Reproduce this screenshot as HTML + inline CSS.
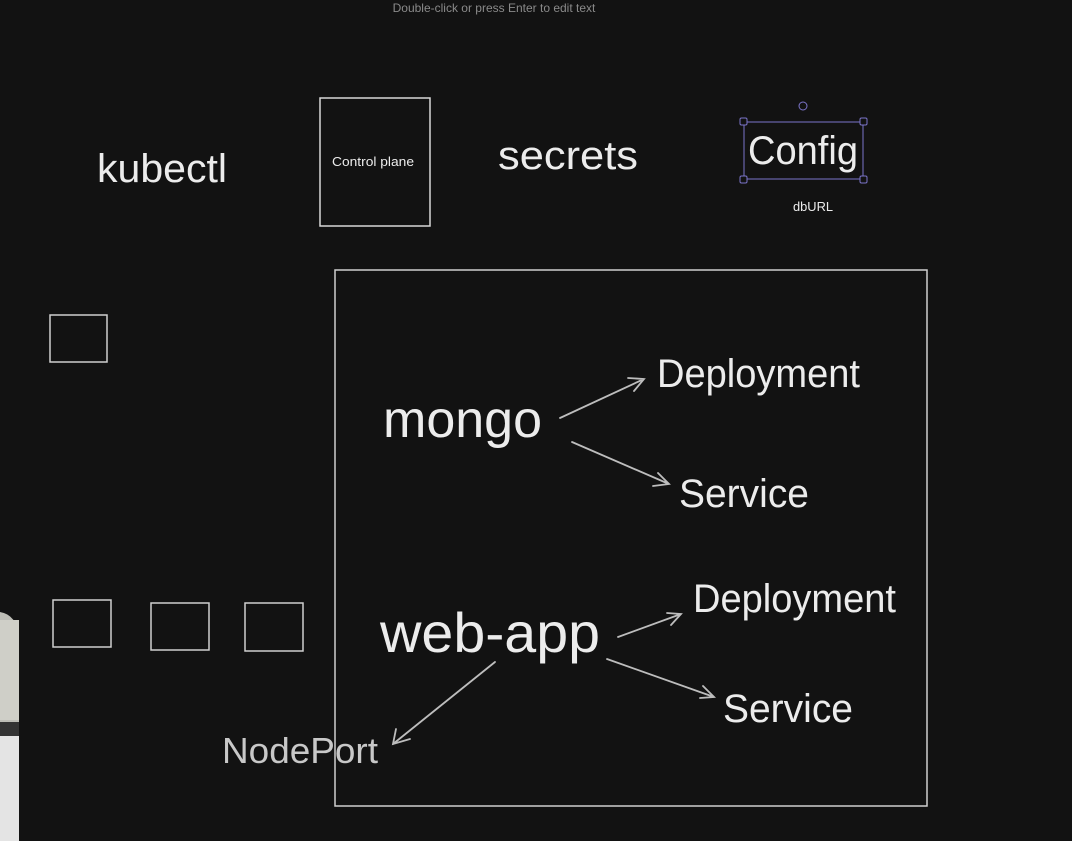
<!DOCTYPE html>
<html><head><meta charset="utf-8"><style>
html,body{margin:0;padding:0;background:#121212;}
svg{display:block}
text{font-family:"Liberation Sans",sans-serif;fill:#ececec}
</style></head><body>
<svg width="1072" height="841" viewBox="0 0 1072 841">
<rect width="1072" height="841" fill="#121212"/>
<text x="494" y="12" font-size="12" fill="#8a8a8a" style="fill:#8a8a8a" text-anchor="middle">Double-click or press Enter to edit text</text>
<text x="97" y="182" font-size="40" textLength="130" lengthAdjust="spacingAndGlyphs">kubectl</text>
<rect x="320" y="98" width="110" height="128" fill="none" stroke="#d8d8d8" stroke-width="1.5"/>
<text x="373" y="166" font-size="13" text-anchor="middle" textLength="82" lengthAdjust="spacingAndGlyphs">Control plane</text>
<text x="498" y="169" font-size="40" textLength="140" lengthAdjust="spacingAndGlyphs">secrets</text>
<rect x="744" y="122" width="119" height="57" fill="none" stroke="#7b74c9" stroke-width="1"/>
<g fill="#121212" stroke="#7b74c9" stroke-width="1">
<rect x="740" y="118" width="7" height="7" rx="1.5"/><rect x="860" y="118" width="7" height="7" rx="1.5"/>
<rect x="740" y="176" width="7" height="7" rx="1.5"/><rect x="860" y="176" width="7" height="7" rx="1.5"/>
<circle cx="803" cy="106" r="4"/></g>
<text x="748" y="164" font-size="40" textLength="110" lengthAdjust="spacingAndGlyphs">Config</text>
<text x="793" y="211" font-size="13" textLength="40" lengthAdjust="spacingAndGlyphs">dbURL</text>
<g fill="none" stroke="#cfcfcf" stroke-width="1.5">
<rect x="50" y="315" width="57" height="47"/>
<rect x="53" y="600" width="58" height="47"/>
<rect x="151" y="603" width="58" height="47"/>
<rect x="245" y="603" width="58" height="48"/>
<rect x="335" y="270" width="592" height="536"/>
</g>
<text x="383" y="437" font-size="52" textLength="159" lengthAdjust="spacingAndGlyphs">mongo</text>
<text x="657" y="387" font-size="40" textLength="203" lengthAdjust="spacingAndGlyphs">Deployment</text>
<text x="679" y="507" font-size="40" textLength="130" lengthAdjust="spacingAndGlyphs">Service</text>
<text x="380" y="652" font-size="56" textLength="220" lengthAdjust="spacingAndGlyphs">web-app</text>
<text x="693" y="612" font-size="40" textLength="203" lengthAdjust="spacingAndGlyphs">Deployment</text>
<text x="723" y="722" font-size="40" textLength="130" lengthAdjust="spacingAndGlyphs">Service</text>
<text x="222" y="763" font-size="36" style="fill:#c8c8c8" textLength="156" lengthAdjust="spacingAndGlyphs">NodePort</text>
<g fill="none" stroke="#bdbdbd" stroke-width="1.8" stroke-linecap="round">
<path d="M560 418 L644 379 M628 378 L644 379 L634 391"/>
<path d="M572 442 L669 484 M653 486 L669 484 L658 473"/>
<path d="M618 637 L681 614 M667 613 L681 614 L671 625"/>
<path d="M607 659 L714 697 M700 698 L714 697 L703 686"/>
<path d="M495 662 L393 744 M396 729 L393 744 L410 739"/>
</g>
<path d="M0 612 Q18 615 19 640 L19 841 L0 841 Z" fill="#bdbdb6"/>
<rect x="0" y="620" width="19" height="100" fill="#cfcfc8"/>
<rect x="0" y="735" width="19" height="106" fill="#e4e4e4"/>
<rect x="0" y="722" width="19" height="14" fill="#333"/>
</svg>
</body></html>
